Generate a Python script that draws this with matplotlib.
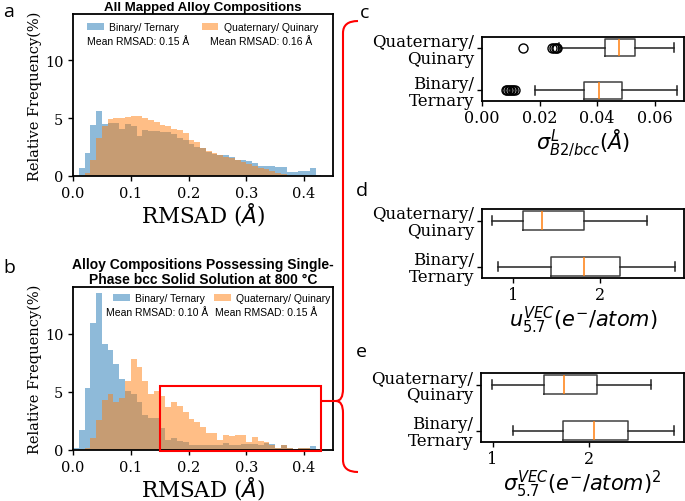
import matplotlib.pyplot as plt
import numpy as np
from matplotlib.patches import Rectangle, PathPatch
from matplotlib.path import Path

# histogram bins (width 0.01) and relative frequencies (%)
edges = np.round(np.arange(0.0, 0.44, 0.01), 2)

a_binary = [0.0, 0.65, 2.0, 4.4, 5.6, 4.5, 4.6, 4.6, 4.1, 4.5, 4.3, 3.5, 4.0, 3.9, 3.9,
            3.8, 3.8, 3.6, 3.3, 3.1, 2.8, 2.5, 2.4, 2.1, 1.9, 1.8, 1.8, 1.6, 1.4, 1.4,
            1.3, 1.1, 0.9, 0.85, 0.85, 0.75, 0.75, 0.35, 0.35, 0.45, 0.45, 0.7, 0.1]
a_quat = [0.0, 0.0, 0.25, 1.4, 3.3, 4.3, 4.9, 5.0, 5.05, 5.1, 5.2, 5.2, 5.0, 4.8, 4.65,
          4.4, 4.3, 4.1, 4.0, 3.7, 3.1, 2.9, 2.45, 2.2, 2.0, 1.85, 1.65, 1.55, 1.35, 1.2,
          1.05, 0.85, 0.7, 0.6, 0.4, 0.3, 0.2, 0.0, 0.0, 0.0, 0.0, 0.0, 0.0]

b_binary = [0.2, 1.7, 5.3, 10.9, 13.5, 9.1, 8.55, 7.4, 6.1, 5.1, 4.8, 4.1, 3.0, 2.75, 2.75,
            1.85, 0.9, 1.0, 0.8, 0.65, 0.45, 0.4, 0.45, 0.4, 0.45, 0.45, 0.6, 0.45, 0.45, 0.5,
            0.55, 0.5, 0.45, 0.6, 0.5, 0.15, 0.4, 0.15, 0.1, 0.2, 0.2, 0.35, 0.0]
b_quat = [0.0, 0.0, 0.2, 1.0, 2.6, 4.3, 4.8, 4.1, 4.5, 5.9, 7.8, 7.1, 5.9, 4.8, 5.1,
          4.6, 3.7, 4.1, 3.8, 3.25, 2.7, 2.4, 2.0, 1.5, 1.45, 0.85, 1.3, 1.2, 1.25, 1.3,
          0.7, 1.1, 0.8, 0.65, 0.45, 0.15, 0.4, 0.15, 0.1, 0.2, 0.2, 0.0, 0.0]

a_means = ['Mean RMSAD: 0.15 Å', 'Mean RMSAD: 0.16 Å']
b_means = ['Mean RMSAD: 0.10 Å', 'Mean RMSAD: 0.15 Å']
groups = ['Binary/ Ternary', 'Quaternary/ Quinary']
box_labels = ['Binary/\nTernary', 'Quaternary/\nQuinary']

# red zoom box in panel b (data units)
zoom_x = (0.15, 0.43)
zoom_y = (-0.1, 5.5)

# boxplot stats: (whislo, q1, med, q3, whishi, fliers)
c_stats = [(0.0183, 0.0354, 0.0406, 0.0488, 0.0676, [0.0082, 0.0088, 0.0093, 0.0098, 0.0103, 0.0108, 0.0113]),
           (0.0266, 0.0427, 0.0477, 0.0533, 0.0668, [0.0141, 0.0242, 0.0250, 0.0256, 0.0262])]
d_stats = [(0.82, 1.44, 1.82, 2.23, 2.86, []),
           (0.75, 1.11, 1.33, 1.82, 2.54, [])]
e_stats = [(1.21, 1.73, 2.05, 2.40, 2.87, []),
           (0.99, 1.53, 1.74, 2.08, 2.64, [])]

serif = 'DejaVu Serif'
sans = 'Liberation Sans'

fig = plt.figure(figsize=(6.85, 5.02), dpi=100)


def px(x0, y0, x1, y1):
    W, H = 685, 502
    return [x0 / W, 1 - y1 / H, (x1 - x0) / W, (y1 - y0) / H]


def hist_panel(rect, binary, quat, title, title_size):
    ax = fig.add_axes(rect)
    centers = (edges[:-1] + edges[1:]) / 2
    ax.hist(centers, bins=edges, weights=binary, histtype='stepfilled', color='C0', alpha=0.5,
            label=groups[0])
    ax.hist(centers, bins=edges, weights=quat, histtype='stepfilled', color='C1', alpha=0.5,
            label=groups[1])
    ax.set_xlim(0, 0.45)
    ax.set_ylim(0, 14)
    ax.set_xticks([0.0, 0.1, 0.2, 0.3, 0.4])
    ax.set_yticks([0, 5, 10])
    for lab in ax.get_xticklabels() + ax.get_yticklabels():
        lab.set_family(serif)
        lab.set_fontsize(10.5)
    ax.tick_params(length=3.5, width=1)
    for s in ax.spines.values():
        s.set_linewidth(1.3)
    ax.set_xlabel('RMSAD ($\\AA$)', family=serif, fontsize=15.5, labelpad=0)
    ax.set_ylabel('Relative Frequency(%)', family=serif, fontsize=10.5, labelpad=2)
    ax.set_title(title, family=sans, fontweight='bold', fontsize=title_size, pad=3, linespacing=1.05)
    return ax


ax_a = hist_panel(px(73, 15, 333, 177), a_binary, a_quat,
                  'All Mapped Alloy Compositions', 9.5)
ax_a.legend(loc='upper left', bbox_to_anchor=(0.03, 0.99), ncol=2, frameon=False,
            prop={'family': sans, 'size': 7.5}, columnspacing=2.2, handlelength=1.6,
            handletextpad=0.5, borderaxespad=0.2)
ax_a.text(0.055, 0.835, a_means[0], transform=ax_a.transAxes, family=sans, fontsize=7.5, va='center')
ax_a.text(0.527, 0.835, a_means[1], transform=ax_a.transAxes, family=sans, fontsize=7.5, va='center')

ax_b = hist_panel(px(73, 288, 333, 451), b_binary, b_quat,
                  'Alloy Compositions Possessing Single-\nPhase bcc Solid Solution at 800 °C', 10)
ax_b.legend(loc='upper left', bbox_to_anchor=(0.13, 1.0), ncol=2, frameon=False,
            prop={'family': sans, 'size': 7.5}, columnspacing=0.9, handlelength=1.6,
            handletextpad=0.5, borderaxespad=0.2)
ax_b.text(0.125, 0.845, b_means[0], transform=ax_b.transAxes, family=sans, fontsize=7.5, va='center')
ax_b.text(0.545, 0.845, b_means[1], transform=ax_b.transAxes, family=sans, fontsize=7.5, va='center')
ax_b.add_patch(Rectangle((zoom_x[0], zoom_y[0]), zoom_x[1] - zoom_x[0], zoom_y[1] - zoom_y[0],
                         fill=False, edgecolor='red', linewidth=1.5, clip_on=False, zorder=5))


def box_panel(rect, stats, xlim, xticks, xlabel):
    ax = fig.add_axes(rect)
    bxp = []
    for lo, q1, med, q3, hi, fl in stats:
        bxp.append(dict(whislo=lo, q1=q1, med=med, q3=q3, whishi=hi, fliers=fl))
    ax.bxp(bxp, positions=[1, 2], widths=0.4, vert=False,
           boxprops=dict(color='#404040', linewidth=1.1),
           whiskerprops=dict(color='#222222', linewidth=1.1),
           capprops=dict(color='#222222', linewidth=1.1),
           medianprops=dict(color='C1', linewidth=1.1),
           flierprops=dict(marker='o', markerfacecolor='none', markeredgecolor='black',
                           markersize=6.5, markeredgewidth=1))
    ax.set_xlim(*xlim)
    ax.set_ylim(0.75, 2.25)
    ax.set_xticks(xticks)
    ax.set_yticks([1, 2])
    ax.set_yticklabels(box_labels, family=serif, fontsize=12, linespacing=1.0)
    for lab in ax.get_xticklabels():
        lab.set_family(serif)
        lab.set_fontsize(11.5)
    ax.tick_params(length=3.5, width=1, pad=2)
    for s in ax.spines.values():
        s.set_linewidth(1.3)
    ax.set_xlabel(xlabel, fontsize=15, labelpad=1)
    return ax


box_panel(px(482, 38, 684, 102), c_stats, (0, 0.0702), [0.0, 0.02, 0.04, 0.06],
          '$\\sigma^{L}_{B2/bcc}(\\AA)$')
box_panel(px(482, 210, 684, 279), d_stats, (0.64, 2.966), [1, 2],
          '$u^{VEC}_{5.7}(e^{-}/atom)$')
box_panel(px(481, 374, 684, 443), e_stats, (0.88, 2.976), [1, 2],
          '$\\sigma^{VEC}_{5.7}(e^{-}/atom)^{2}$')

# panel letters
for letter, x, y in [('a', 3, 12), ('b', 3, 268), ('c', 360, 13), ('d', 356, 191), ('e', 356, 352)]:
    fig.text(x / 685, 1 - y / 502, letter, family='Open Sans', fontsize=14, va='center')

# red brace linking the zoom box to panels c-e
W, H = 685, 502
pts = [(358, 22), (343, 22), (343, 34), (343, 390), (343, 402), (336, 402),
       (343, 402), (343, 414), (343, 461), (343, 473), (358, 473)]
codes = [Path.MOVETO, Path.CURVE3, Path.CURVE3, Path.LINETO, Path.CURVE3, Path.CURVE3,
         Path.CURVE3, Path.CURVE3, Path.LINETO, Path.CURVE3, Path.CURVE3]
brace = Path([(x / W, 1 - y / H) for x, y in pts], codes)
fig.add_artist(PathPatch(brace, transform=fig.transFigure, fill=False, edgecolor='red', linewidth=1.5))
fig.add_artist(plt.Line2D([323 / W, 338 / W], [1 - 402 / H, 1 - 402 / H],
                          transform=fig.transFigure, color='red', linewidth=1.5))

fig.savefig('out.png', dpi=100)
